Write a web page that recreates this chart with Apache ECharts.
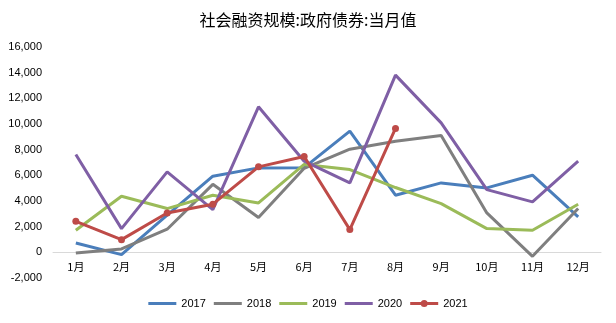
<!DOCTYPE html>
<html><head><meta charset="utf-8">
<script src="https://cdn.jsdelivr.net/npm/echarts@6/dist/echarts.min.js"></script>
<style>html,body{margin:0;padding:0;background:#fff}#c{width:616px;height:323px}</style>
</head><body><div id="c"></div>
<script>
const categories = ['1月','2月','3月','4月','5月','6月','7月','8月','9月','10月','11月','12月'];
const s2017 = [730, -180, 2900, 5930, 6580, 6600, 9440, 4450, 5410, 5020, 6010, 2760];
const s2018 = [-50, 260, 1800, 5300, 2710, 6550, 8040, 8660, 9100, 3070, -310, 3410];
const s2019 = [1720, 4370, 3410, 4450, 3850, 6850, 6450, 5050, 3800, 1850, 1720, 3750];
const s2020 = [7620, 1850, 6270, 3330, 11340, 7100, 5410, 13810, 10090, 4890, 3930, 7100];
const s2021 = [2420, 990, 3070, 3750, 6660, 7470, 1770, 9650];
const seriesNames = ['2017','2018','2019','2020','2021'];
const colors = ['#4a7ebb','#7f7f7f','#9bbb59','#7f5fa5','#be4b48'];
const dataSets = [s2017, s2018, s2019, s2020, s2021];

const lineIcon = 'path://M0,0 L28,0 L28,3 L0,3 Z';
const dotIcon = 'path://M0,2.5 L11,2.5 L11,5.5 L0,5.5 Z M17,2.5 L28,2.5 L28,5.5 L17,5.5 Z M10.5,4 A3.5,3.5 0 1,1 17.5,4 A3.5,3.5 0 1,1 10.5,4 Z';

const chart = echarts.init(document.getElementById('c'));
const font = '"Noto Sans CJK SC", "Liberation Sans", sans-serif';
chart.setOption({
  animation: false,
  textStyle: {fontFamily: font},
  title: {
    text: '社会融资规模:政府债券:当月值',
    left: 'center', top: 7,
    textStyle: {fontSize: 16, fontWeight: 'normal', color: '#000', fontFamily: font}
  },
  legend: {
    bottom: 9, left: 'center',
    itemWidth: 28, itemHeight: 8, itemGap: 8,
    textStyle: {fontSize: 11, color: '#000', fontFamily: '"Liberation Sans", sans-serif'},
    data: seriesNames.map((n, i) => ({name: n, icon: i === 4 ? dotIcon : lineIcon}))
  },
  grid: {left: 53, right: 15, top: 47, bottom: 45},
  xAxis: {
    type: 'category', data: categories, boundaryGap: true,
    axisLine: {onZero: true, lineStyle: {color: '#d9d9d9', width: 1}},
    axisTick: {show: false},
    axisLabel: {color: '#000', fontSize: 11, margin: -17, fontFamily: font}
  },
  yAxis: {
    type: 'value', min: -2000, max: 16000, interval: 2000,
    axisLine: {show: false}, axisTick: {show: false},
    splitLine: {show: false},
    axisLabel: {color: '#000', fontSize: 11, margin: 11, fontFamily: '"Liberation Sans", sans-serif',
      formatter: v => v.toLocaleString('en-US')}
  },
  series: dataSets.map((d, i) => ({
    name: seriesNames[i], type: 'line', data: d,
    symbol: i === 4 ? 'circle' : 'none', symbolSize: 7,
    lineStyle: {width: 3, color: colors[i]},
    itemStyle: {color: colors[i]},
    z: i === 4 ? 5 : 2
  }))
});
</script></body></html>
